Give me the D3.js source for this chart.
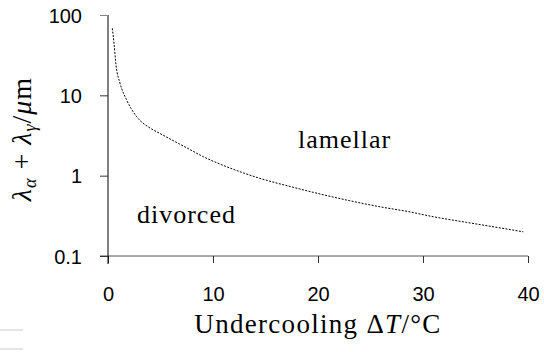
<!DOCTYPE html>
<html>
<head>
<meta charset="utf-8">
<script src="https://cdn.jsdelivr.net/npm/d3@7"></script>
<style>
  body { margin: 0; background: #fff; }
  .tick text { font-family: "Liberation Sans", Arial, sans-serif; font-size: 20px; fill: #000; }
</style>
</head>
<body>
<svg id="chart" width="544" height="352"></svg>
<script>
// undercooling (deg C) and spacing (um)
let undercooling = [0.41, 0.57, 0.76, 1.14, 1.78, 2.73, 4.0, 4.95, 6.7, 7.5, 9.08, 10.35,
                    12.57, 14.48, 17.17, 19.55, 22.73, 25.9, 28.6, 31.0, 34.16, 37.33, 39.55];
let spacing = [68.3, 44.8, 24.0, 14.2, 8.74, 5.42, 3.92, 3.35, 2.52, 2.22, 1.72, 1.45,
               1.12, 0.925, 0.743, 0.620, 0.497, 0.410, 0.357, 0.308, 0.262, 0.224, 0.200];
let xTicks = [0, 10, 20, 30, 40];
let yTicks = [0.1, 1, 10, 100];
let yTickLabels = ["0.1", "1", "10", "100"];
let regions = [
  {name: "lamellar", dT: 18.1, lam: 2.2},
  {name: "divorced", dT: 2.76, lam: 0.257}
];

let serif = "'Liberation Serif', 'Times New Roman', serif";
let svg = d3.select("#chart");

function make_scales() {
  return {
    x: d3.scaleLinear().domain([0, 40]).range([108, 528]),
    y: d3.scaleLog().domain([0.1, 100]).range([256, 15])
  }
}

function draw(scales) {
  let xAxis = d3.axisBottom(scales.x)
    .tickValues(xTicks)
    .tickSize(7)
    .tickSizeOuter(7)
    .tickPadding(24)
    .tickFormat(d3.format("d"));
  let gx = svg.append("g")
    .attr("transform", "translate(0,256)")
    .call(xAxis);
  gx.select(".domain").attr("stroke", "#555").attr("d", "M100,0H528");
  gx.selectAll(".tick line").attr("stroke", "#333");

  let yAxis = d3.axisLeft(scales.y)
    .tickValues(yTicks)
    .tickSize(8)
    .tickPadding(18)
    .tickFormat((d, i) => yTickLabels[i]);
  let gy = svg.append("g")
    .attr("transform", "translate(108,0)")
    .call(yAxis);
  gy.select(".domain").attr("stroke", "#000").attr("d", "M0,15V264");
  gy.selectAll(".tick line").attr("stroke", d => d == 100 ? "#888" : "#333");
  gy.selectAll(".tick text").attr("dy", "0.36em");

  let line = d3.line()
    .x((d, i) => scales.x(d))
    .y((d, i) => scales.y(spacing[i]))
    .curve(d3.curveMonotoneX);
  svg.append("path")
    .datum(undercooling)
    .attr("d", line)
    .attr("fill", "none")
    .attr("stroke", "#000")
    .attr("stroke-width", 1)
    .attr("stroke-dasharray", "2,1.4");

  svg.selectAll(".region")
    .data(regions).enter()
    .append("text")
    .attr("x", d => scales.x(d.dT))
    .attr("y", d => scales.y(d.lam))
    .attr("font-family", serif)
    .attr("font-size", 26)
    .attr("letter-spacing", 1)
    .text(d => d.name);

  // axis titles
  let xt = svg.append("text")
    .attr("x", 318)
    .attr("y", 333)
    .attr("text-anchor", "middle")
    .attr("font-family", serif)
    .attr("font-size", 27)
    .attr("letter-spacing", 1.3);
  xt.append("tspan").text("Undercooling \u0394");
  xt.append("tspan").attr("font-style", "italic").text("T");
  xt.append("tspan").text("/\u00B0C");

  let yt = svg.append("text")
    .attr("transform", "translate(31,139) rotate(-90)")
    .attr("text-anchor", "middle")
    .attr("font-family", serif)
    .attr("font-size", 28)
    .attr("letter-spacing", 1);
  yt.append("tspan").attr("font-style", "italic").text("\u03BB");
  yt.append("tspan").attr("font-style", "italic").attr("font-size", 18).attr("dy", 5).text("\u03B1");
  yt.append("tspan").attr("dy", -5).text(" + ");
  yt.append("tspan").attr("font-style", "italic").text("\u03BB");
  yt.append("tspan").attr("font-style", "italic").attr("font-size", 18).attr("dy", 5).text("\u03B3");
  yt.append("tspan").attr("dy", -5).text("/");
  yt.append("tspan").attr("font-style", "italic").text("\u03BC");
  yt.append("tspan").text("m");

  // stray rules at the lower left of the source figure
  svg.selectAll(".stray")
    .data([330, 349]).enter()
    .append("line")
    .attr("x1", 0).attr("x2", 23)
    .attr("y1", d => d).attr("y2", d => d)
    .attr("stroke", "#ccc");
}

draw(make_scales());
</script>
</body>
</html>
